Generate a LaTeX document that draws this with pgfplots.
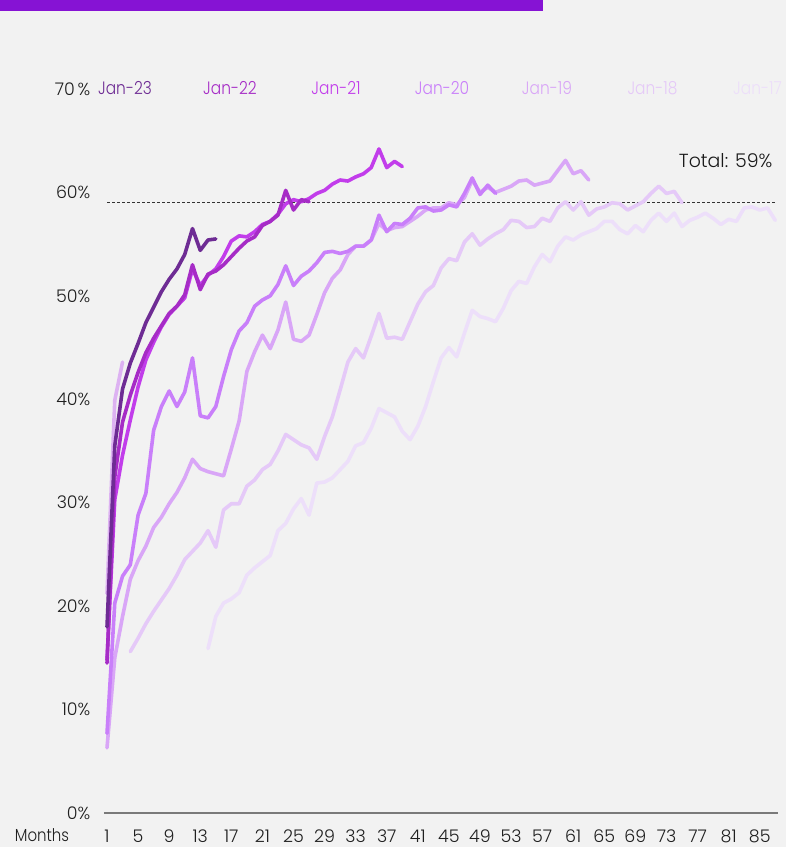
\documentclass[border=0pt]{standalone}
\usepackage{pgfplots}
\pgfplotsset{compat=1.18}
\usepackage{fontspec}
\setmainfont{Poppins Light}
\newfontfamily\narrowfont{Poppins Light}[FakeStretch=0.86]
\definecolor{bg}{HTML}{F2F2F2}
\definecolor{banner}{HTML}{8613D4}
\definecolor{c23}{HTML}{6E2C94}
\definecolor{c22}{HTML}{A62CC6}
\definecolor{c21}{HTML}{C23DEB}
\definecolor{c20}{HTML}{C97FFA}
\definecolor{c19}{HTML}{D9A6F7}
\definecolor{c18}{HTML}{E5C9F8}
\definecolor{c17}{HTML}{EDDFFA}
\definecolor{c24}{HTML}{DDB2F2}
\definecolor{axisgray}{HTML}{7A7A7A}
\definecolor{dashgray}{HTML}{333333}
\newcommand{\lblfont}{\fontsize{17.5}{20}\selectfont}
\newcommand{\janfont}{\narrowfont\fontsize{18}{21}\selectfont}
\begin{document}
\begin{tikzpicture}[x=1bp,y=1bp]
\fill[bg] (0,0) rectangle (786,847);
\fill[banner] (0,836) rectangle (543,847);
\begin{axis}[
  at={(103.9bp,34bp)}, anchor=south west,
  width=673.7bp, height=724bp, scale only axis,
  xmin=0.6, xmax=87.3, ymin=0, ymax=70,
  axis x line=bottom, axis y line=left,
  x axis line style={-, draw=axisgray, line width=1.5bp},
  y axis line style={draw=none},
  major tick length=0pt,
  xtick={1,5,...,85},
  ytick={0,10,...,70},
  yticklabels={0\%,10\%,20\%,30\%,40\%,50\%,60\%,70\,\%},
  /pgf/number format/assume math mode=true,
  xticklabel style={font=\lblfont, anchor=base, yshift=-29bp, text=black!88},
  yticklabel style={font=\lblfont, anchor=east, xshift=-10bp, text=black!88},
  clip=false,
  every axis plot/.append style={line width=3.6bp, line join=round, line cap=round, mark=none},
]
\addplot[dashgray, line width=1.3bp, dash pattern=on 3bp off 2bp, line cap=butt] coordinates {(1,59) (87,59)};
% Jan-17
\addplot[c17] coordinates {
(14,15.9)(15,19.0)(16,20.3)(17,20.7)(18,21.3)(19,23.0)(20,23.7)(21,24.3)(22,24.9)(23,27.3)
(24,28.0)(25,29.4)(26,30.4)(27,28.8)(28,31.9)(29,32.0)(30,32.4)(31,33.2)(32,34.0)(33,35.5)
(34,35.8)(35,37.2)(36,39.1)(37,38.7)(38,38.3)(39,36.9)(40,36.1)(41,37.4)(42,39.3)(43,41.7)
(44,44.0)(45,45.0)(46,44.1)(47,46.4)(48,48.6)(49,48.0)(50,47.8)(51,47.5)(52,48.8)(53,50.5)
(54,51.4)(55,51.2)(56,52.8)(57,54.0)(58,53.3)(59,54.8)(60,55.7)(61,55.4)(62,55.9)(63,56.2)
(64,56.5)(65,57.2)(66,57.2)(67,56.4)(68,56.0)(69,56.8)(70,56.2)(71,57.3)(72,58.0)(73,57.2)
(74,58.0)(75,56.7)(76,57.3)(77,57.6)(78,58.0)(79,57.5)(80,56.9)(81,57.4)(82,57.2)(83,58.5)
(84,58.6)(85,58.3)(86,58.5)(87,57.3)};
% Jan-18
\addplot[c18] coordinates {
(4,15.6)(5,16.9)(6,18.3)(7,19.5)(8,20.6)(9,21.7)(10,23.0)(11,24.5)(12,25.3)(13,26.1)
(14,27.3)(15,25.7)(16,29.3)(17,29.9)(18,29.9)(19,31.6)(20,32.2)(21,33.2)(22,33.7)(23,35.0)
(24,36.6)(25,36.1)(26,35.6)(27,35.3)(28,34.2)(29,36.4)(30,38.3)(31,40.9)(32,43.6)(33,44.9)
(34,44.0)(35,46.1)(36,48.3)(37,45.9)(38,46.0)(39,45.8)(40,47.5)(41,49.2)(42,50.4)(43,51.0)
(44,52.7)(45,53.6)(46,53.4)(47,55.2)(48,56.0)(49,54.9)(50,55.5)(51,56.0)(52,56.4)(53,57.3)
(54,57.2)(55,56.6)(56,56.7)(57,57.5)(58,57.2)(59,58.5)(60,59.1)(61,58.3)(62,59.1)(63,57.8)
(64,58.4)(65,58.6)(66,59.0)(67,58.9)(68,58.3)(69,58.7)(70,59.1)(71,59.9)(72,60.6)(73,59.9)
(74,60.1)(75,59.0)};
% Jan-19
\addplot[c19] coordinates {
(1,6.3)(2,15.0)(3,19.0)(4,22.6)(5,24.4)(6,25.8)(7,27.6)(8,28.6)(9,29.9)(10,31.0)
(11,32.4)(12,34.2)(13,33.3)(14,33.0)(15,32.8)(16,32.6)(17,35.2)(18,37.9)(19,42.7)(20,44.6)
(21,46.2)(22,44.9)(23,46.7)(24,49.4)(25,45.8)(26,45.6)(27,46.2)(28,48.2)(29,50.3)(30,51.7)
(31,52.5)(32,54.0)(33,54.8)(34,54.8)(35,55.4)(36,57.0)(37,56.3)(38,56.6)(39,56.7)(40,57.2)
(41,57.7)(42,58.3)(43,58.5)(44,58.5)(45,59.0)(46,58.8)(47,59.5)(48,61.2)(49,60.0)(50,60.5)
(51,60.0)(52,60.3)(53,60.6)(54,61.1)(55,61.2)(56,60.7)(57,60.9)(58,61.1)(59,62.1)(60,63.1)
(61,61.8)(62,62.1)(63,61.2)};
% Jan-20
\addplot[c20] coordinates {
(1,7.7)(2,20.3)(3,22.9)(4,24.0)(5,28.8)(6,30.9)(7,37.0)(8,39.3)(9,40.8)(10,39.3)
(11,40.7)(12,44.0)(13,38.4)(14,38.2)(15,39.3)(16,42.2)(17,44.8)(18,46.6)(19,47.4)(20,49.0)
(21,49.6)(22,50.0)(23,51.1)(24,52.9)(25,51.0)(26,51.9)(27,52.4)(28,53.2)(29,54.2)(30,54.3)
(31,54.1)(32,54.3)(33,54.8)(34,54.8)(35,55.4)(36,57.8)(37,56.2)(38,57.0)(39,56.9)(40,57.5)
(41,58.5)(42,58.6)(43,58.2)(44,58.3)(45,58.8)(46,58.6)(47,59.9)(48,61.4)(49,59.8)(50,60.7)
(51,59.9)};
% Jan-24
\addplot[c24] coordinates {(1,21.2)(2,39.9)(3,43.6)};
% Jan-21
\addplot[c21] coordinates {
(1,14.8)(2,30.3)(3,34.6)(4,38.0)(5,41.2)(6,43.8)(7,45.5)(8,47.0)(9,48.2)(10,49.0)
(11,49.8)(12,52.6)(13,51.0)(14,52.0)(15,52.6)(16,53.8)(17,55.3)(18,55.8)(19,55.7)(20,56.2)
(21,56.9)(22,57.2)(23,57.9)(24,58.9)(25,59.3)(26,59.1)(27,59.4)(28,59.9)(29,60.2)(30,60.8)
(31,61.2)(32,61.1)(33,61.5)(34,61.8)(35,62.4)(36,64.2)(37,62.4)(38,63.0)(39,62.5)};
% Jan-22
\addplot[c22] coordinates {
(1,14.5)(2,32.5)(3,37.8)(4,40.4)(5,42.6)(6,44.5)(7,45.9)(8,47.1)(9,48.3)(10,49.0)
(11,50.1)(12,53.0)(13,50.6)(14,52.1)(15,52.4)(16,53.0)(17,53.8)(18,54.6)(19,55.3)(20,55.7)
(21,56.8)(22,57.2)(23,57.8)(24,60.2)(25,58.3)(26,59.3)(27,59.1)};
% Jan-23
\addplot[c23] coordinates {
(1,18.0)(2,35.5)(3,41.0)(4,43.5)(5,45.4)(6,47.4)(7,48.9)(8,50.4)(9,51.6)(10,52.6)
(11,54.0)(12,56.5)(13,54.4)(14,55.4)(15,55.5)};
\end{axis}
\node[font=\janfont, text=c23] at (125,759) {Jan-23};
\node[font=\janfont, text=c22] at (230,759) {Jan-22};
\node[font=\janfont, text=c21] at (336,759) {Jan-21};
\node[font=\janfont, text=c20] at (442,759) {Jan-20};
\node[font=\janfont, text=c19] at (547,759) {Jan-19};
\node[font=\janfont, text=c18] at (652.5,759) {Jan-18};
\node[font=\janfont, text=c17] at (757.5,759) {Jan-17};
\node[font=\fontsize{19}{22}\selectfont, anchor=east, text=black!90] at (776,686) {Total: 59\%};
\node[font=\narrowfont\fontsize{17.5}{20}\selectfont, anchor=base, text=black!88] at (42,5) {Months};
\pgfresetboundingbox
\path[use as bounding box] (0,0) rectangle (786,847);
\end{tikzpicture}
\end{document}
